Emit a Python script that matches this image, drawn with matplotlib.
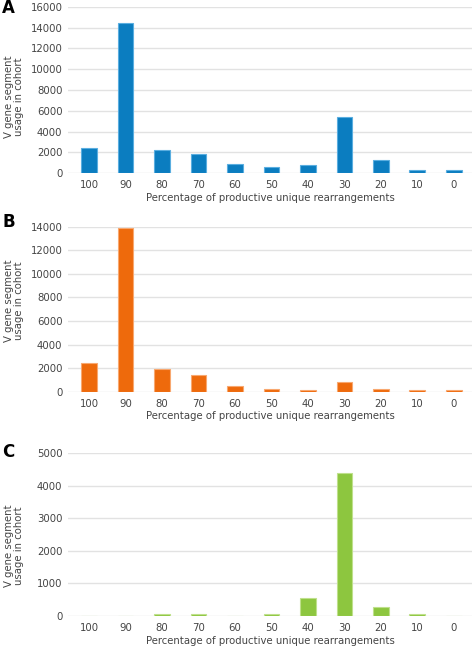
import numpy as np
import matplotlib
matplotlib.use("Agg")
import matplotlib.pyplot as plt

# percentage bins, shown left to right
categories = ['100', '90', '80', '70', '60', '50', '40', '30', '20', '10', '0']

# V gene segment usage per panel
usage_a = [2400, 14500, 2200, 1800, 840, 580, 740, 5400, 1220, 260, 250]
usage_b = [2400, 13900, 1950, 1420, 480, 260, 170, 820, 260, 170, 170]
usage_c = [0, 0, 50, 50, 0, 50, 545, 4400, 280, 60, 0]

panels = [
    ('A', usage_a, '#0b7dc0', '#5aaee0', 16000, 0.7326, 0.2566, 0.46, 0.995),
    ('B', usage_b, '#ee6a0c', '#f8a870', 14000, 0.3946, 0.2550, 0.55, 1.026),
    ('C', usage_c, '#8dc63f', '#bfe08c', 5000, 0.0479, 0.2515, 0.43, 1.005),
]

plt.rcParams['font.family'] = ['DejaVu Sans']
fig = plt.figure(figsize=(4.72, 6.47), dpi=100)

x = np.arange(len(categories))
for letter, vals, col, edge, ymax, bottom, height, ylab_y, let_y in panels:
    ax = fig.add_axes([0.144, bottom, 0.856, height])
    ax.bar(x, vals, width=0.43, color=col, edgecolor=edge, linewidth=0.8, zorder=3)
    ax.set_xlim(-0.58, 10.5)
    ax.set_ylim(0, ymax)
    step = 2000 if ymax > 6000 else 1000
    ax.set_yticks(np.arange(0, ymax + 1, step))
    ax.set_xticks(x)
    ax.set_xticklabels(categories)
    for s in ax.spines.values():
        s.set_visible(False)
    ax.grid(axis='y', color='#e2e2e2', linewidth=1.0, zorder=0)
    ax.tick_params(length=0, labelsize=7.3, colors='#444444')
    ax.tick_params(axis='y', pad=4)
    ax.tick_params(axis='x', pad=5)
    ax.set_xlabel('Percentage of productive unique rearrangements',
                  fontsize=7.3, color='#444444', labelpad=2)
    ax.set_ylabel('V gene segment\nusage in cohort', fontsize=7.3,
                  color='#444444', linespacing=1.0)
    ax.yaxis.set_label_coords(-0.108, ylab_y)
    ax.text(-0.163, let_y, letter, transform=ax.transAxes, fontsize=12,
            fontweight='bold', ha='left', va='center', color='black')

fig.savefig('out.png', dpi=100)
